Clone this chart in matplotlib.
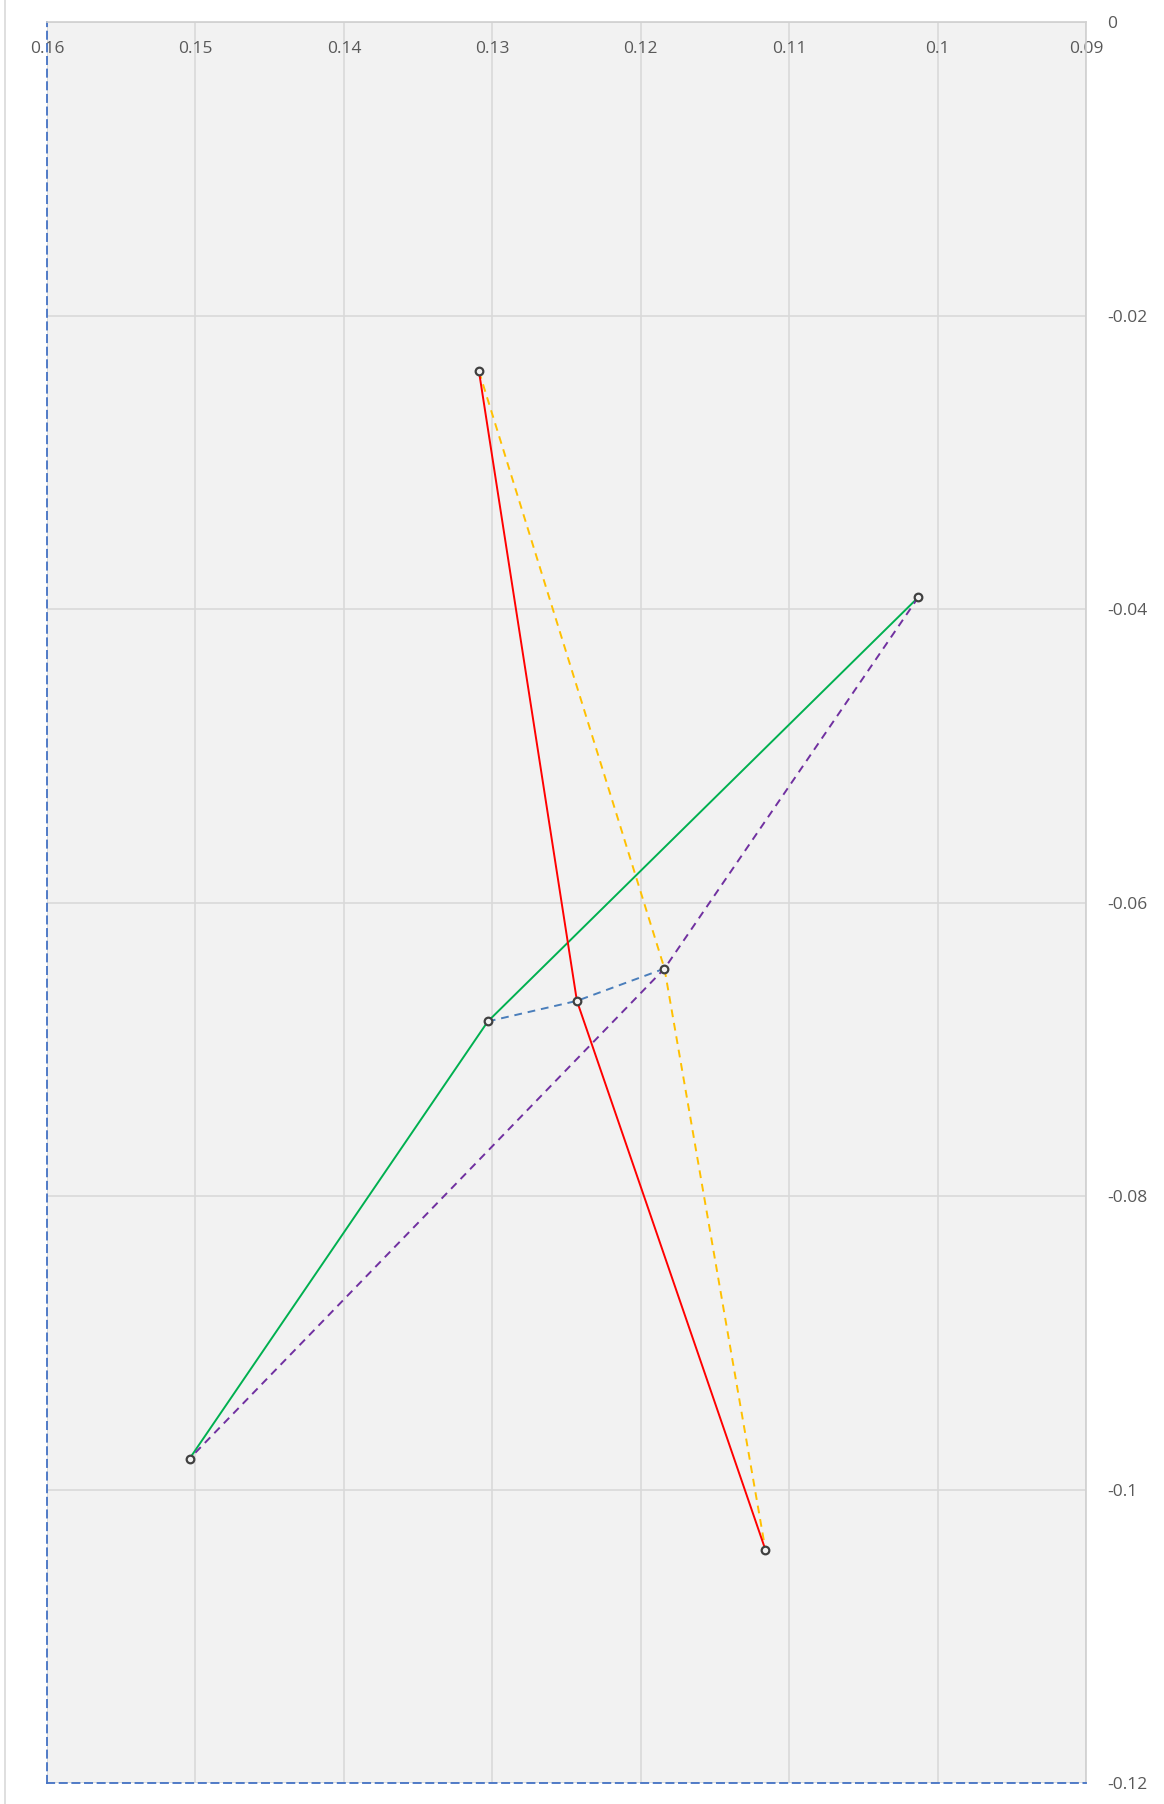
import numpy as np
import matplotlib.pyplot as plt
from matplotlib.patches import Rectangle

# points
red_x = [0.1309, 0.1243, 0.1116]
red_y = [-0.0238, -0.0667, -0.1041]

orange_x = [0.1309, 0.1184, 0.1116]
orange_y = [-0.0238, -0.0645, -0.1041]

green_x = [0.1013, 0.1303, 0.1504]
green_y = [-0.0392, -0.0681, -0.0979]

purple_x = [0.1013, 0.1184, 0.1504]
purple_y = [-0.0392, -0.0645, -0.0979]

blue_x = [0.1303, 0.1243, 0.1184]
blue_y = [-0.0681, -0.0667, -0.0645]

marker_x = [0.1309, 0.1013, 0.1303, 0.1243, 0.1184, 0.1504, 0.1116]
marker_y = [-0.0238, -0.0392, -0.0681, -0.0667, -0.0645, -0.0979, -0.1041]

x_ticks = [0.16, 0.15, 0.14, 0.13, 0.12, 0.11, 0.1, 0.09]
x_labels = ['0.16', '0.15', '0.14', '0.13', '0.12', '0.11', '0.1', '0.09']
y_ticks = [0, -0.02, -0.04, -0.06, -0.08, -0.1, -0.12]
y_labels = ['0', '-0.02', '-0.04', '-0.06', '-0.08', '-0.1', '-0.12']

plt.rcParams['font.family'] = ['Open Sans', 'DejaVu Sans']

fig = plt.figure(figsize=(11.64, 18.04), dpi=100)
fig.patches.append(Rectangle((0.004, -0.01), 1.2, 1.2, transform=fig.transFigure,
                             fill=False, edgecolor='#D9D9D9', linewidth=1.2))
ax = fig.add_axes([0.0404, 0.0116, 0.8926, 0.9762])
ax.set_facecolor('#F2F2F2')

lw = 1.4
ax.plot(green_x, green_y, color='#00B050', lw=lw, zorder=3)
ax.plot(purple_x, purple_y, color='#7030A0', lw=lw, ls=(0, (4, 3)), zorder=3)
ax.plot(orange_x, orange_y, color='#FFC000', lw=lw, ls=(0, (4, 3)), zorder=3)
ax.plot(red_x, red_y, color='#FF0000', lw=lw, zorder=3)
ax.plot(blue_x, blue_y, color='#4A7EBB', lw=lw, ls=(0, (4, 3)), zorder=3)
ax.plot(marker_x, marker_y, ls='none', marker='o', markersize=5.5,
        markerfacecolor='#F2F2F2', markeredgecolor='#404040', markeredgewidth=1.6, zorder=4)

ax.set_xlim(0.16, 0.09)
ax.set_ylim(-0.12, 0)
ax.set_xticks(x_ticks)
ax.set_xticklabels(x_labels)
ax.set_yticks(y_ticks)
ax.set_yticklabels(y_labels)

ax.grid(True, color='#D9D9D9', lw=1.2)
ax.set_axisbelow(True)

ax.xaxis.tick_top()
ax.yaxis.tick_right()
ax.tick_params(axis='x', length=0, pad=-25, labelsize=12.5, colors='#595959')
ax.tick_params(axis='y', length=0, pad=15, labelsize=12.5, colors='#595959')

for s in ['top', 'right']:
    ax.spines[s].set_color('#D0D0D0')
    ax.spines[s].set_linewidth(1.2)
for s in ['left', 'bottom']:
    ax.spines[s].set_color('#4472C4')
    ax.spines[s].set_linewidth(1.3)
    ax.spines[s].set_linestyle((0, (4, 3)))

plt.savefig('out.png', dpi=100)
